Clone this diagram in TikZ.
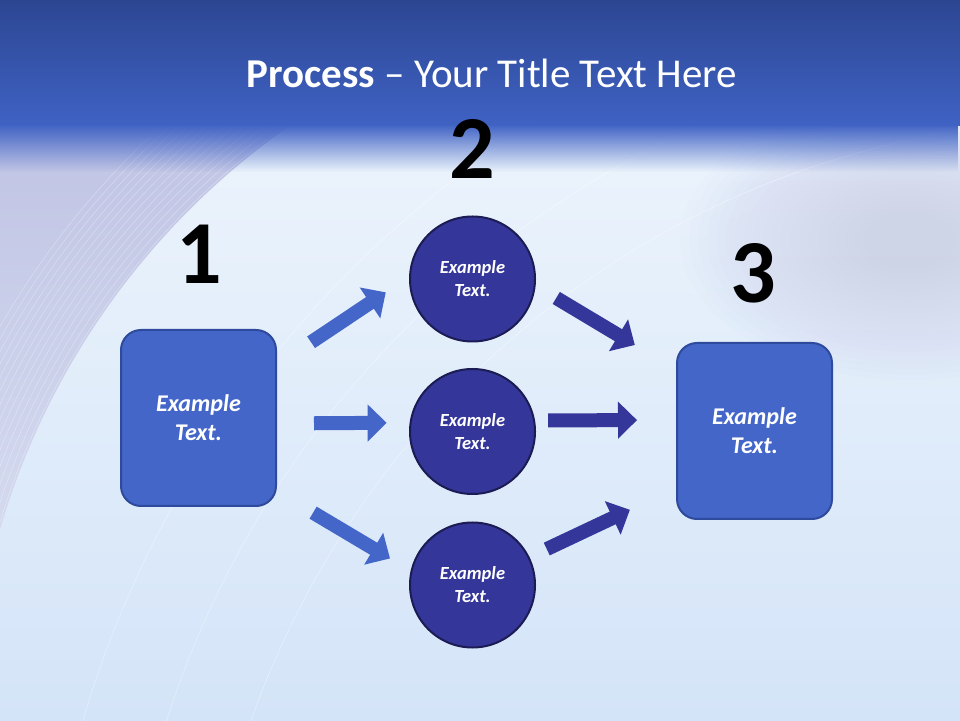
\documentclass[tikz,border=0pt]{standalone}
\usepackage{fontspec}
\setmainfont{Carlito}
\usepackage{xcolor}
\usepackage{tikz}
\definecolor{hdtop}{RGB}{44,70,146}
\definecolor{hdbot}{RGB}{63,98,196}
\definecolor{bglight}{RGB}{236,244,252}
\definecolor{bgblue}{RGB}{212,228,248}
\definecolor{lavender}{RGB}{192,196,228}
\definecolor{boxblue}{RGB}{68,102,200}
\definecolor{boxedge}{RGB}{46,74,156}
\definecolor{circblue}{RGB}{52,54,153}
\definecolor{circedge}{RGB}{28,28,84}
\usetikzlibrary{arrows.meta,fadings}

\tikzset{
  stepbox/.style={draw=boxedge, line width=2pt, fill=boxblue, rounded corners=20pt,
    minimum width=155pt, minimum height=176pt, text=white, align=center,
    font=\fontsize{24}{29}\selectfont\bfseries\itshape},
  stepcircle/.style={circle, draw=circedge, line width=2pt, fill=circblue,
    minimum size=125pt, text=white, align=center,
    font=\fontsize{18.5}{23}\selectfont\bfseries\itshape},
  stepnum/.style={font=\fontsize{90}{90}\selectfont\bfseries},
  arrowL/.style={draw=boxblue, line width=14pt, -{Triangle[length=19pt,width=36pt]}},
  arrowR/.style={arrowL, draw=circblue},
}

\begin{document}
\begin{tikzpicture}[x=1pt, y=1pt]
    \useasboundingbox (0,0) rectangle (960,720);

    % Background
    \shade[top color=bglight, bottom color=bgblue] (0,0) rectangle (960,595);
    \begin{scope}
        \clip (0,0) rectangle (960,595);
        % lavender corner left of the big arc
        \shade[top color=lavender, bottom color=lavender!55!bglight]
            (0,595) -- (290.7,595) arc[start angle=124.9, end angle=163.7, radius=750] -- cycle;
        % right-hand blue haze
        \foreach \s in {1,0.96,...,0.2}
            \fill[lavender, opacity=0.03] (910,480) ellipse ({230*\s} and {140*\s});
        % mesh lines along the arc
        \foreach \r in {752,758,...,830}
            \draw[white, opacity=0.35, line width=0.5pt] (720,-20) circle (\r);
        \foreach \r in {900,980,1060}
            \draw[white, opacity=0.4, line width=0.6pt] (1100,-300) circle (\r);
    \end{scope}
    \fill[hdbot, path fading=south] (0,548) rectangle (960,596);

    % Header band
    \shade[top color=hdtop, bottom color=hdbot] (0,594) rectangle (960,720);
    \node[text=white, font=\fontsize{41}{44}\selectfont, anchor=base] (title) at (492,632)
        {\textbf{Process} -- Your Title Text Here};

    % Step numbers
    \node[stepnum] (n1) at (199,466) {1};
    \node[stepnum] (n2) at (472,571) {2};
    \node[stepnum] (n3) at (753,447) {3};

    % Boxes and circles
    \node[stepbox] (box1) at (198.5,302) {Example\\Text.};
    \node[stepbox] (box3) at (754.5,289) {Example\\Text.};
    \node[stepcircle] (c1) at (472.5,441) {Example\\Text.};
    \node[stepcircle] (c2) at (472.5,288.5) {Example\\Text.};
    \node[stepcircle] (c3) at (472.5,135) {Example\\Text.};

    % Arrows into the circles
    \draw[arrowL, shorten <=41pt, shorten >=28pt] (box1.34) -- (c1.178);
    \draw[arrowL, shorten <=37pt, shorten >=23pt] (box1.-4) -- (c2.172);
    \draw[arrowL, shorten <=42pt, shorten >=24pt] (box1.-43) -- (c3.167);

    % Arrows out of the circles
    \draw[arrowR, shorten <=24pt, shorten >=48pt] (c1.-6) -- (box3.142);
    \draw[arrowR, shorten <=13pt, shorten >=39pt] (c2.10) -- (box3.172);
    \draw[arrowR, shorten <=19pt, shorten >=51pt] (c3.26) -- (box3.216);
\end{tikzpicture}
\end{document}
